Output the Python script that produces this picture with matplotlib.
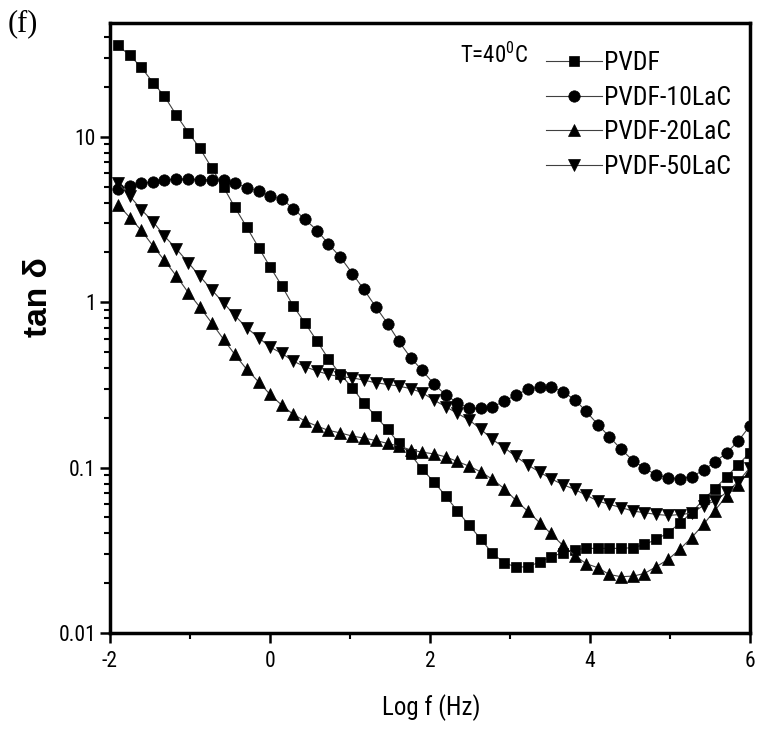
import matplotlib
matplotlib.use("Agg")
import matplotlib.pyplot as plt
from matplotlib import font_manager
from matplotlib.ticker import FixedLocator, FixedFormatter, LogLocator, NullFormatter

# Frequency grid (log10 of f in Hz)
log_f = [-1.90, -1.75, -1.61, -1.46, -1.32, -1.17, -1.02, -0.88, -0.73, -0.58,
         -0.44, -0.29, -0.14, 0.00, 0.15, 0.29, 0.44, 0.59, 0.73, 0.88,
         1.03, 1.17, 1.32, 1.47, 1.61, 1.76, 1.90, 2.05, 2.20, 2.34,
         2.49, 2.64, 2.78, 2.93, 3.07, 3.22, 3.37, 3.51, 3.66, 3.81,
         3.95, 4.10, 4.24, 4.39, 4.54, 4.68, 4.83, 4.98, 5.12, 5.27,
         5.42, 5.56, 5.71, 5.85, 6.00]

tan_pvdf = [35.6, 31.0, 26.3, 21.2, 17.6, 13.5, 10.6, 8.57, 6.5, 4.95,
            3.75, 2.84, 2.13, 1.64, 1.25, 0.95, 0.745, 0.58, 0.455, 0.366,
            0.304, 0.247, 0.205, 0.170, 0.141, 0.120, 0.098, 0.082, 0.067, 0.055,
            0.0448, 0.0368, 0.0303, 0.0266, 0.0251, 0.0251, 0.0269, 0.0288, 0.0306, 0.0318,
            0.0325, 0.0325, 0.0325, 0.0325, 0.0328, 0.0343, 0.0368, 0.0405, 0.046, 0.0534,
            0.0643, 0.0746, 0.088, 0.104, 0.123]

tan_10lac = [4.85, 5.03, 5.23, 5.36, 5.51, 5.53, 5.56, 5.50, 5.48, 5.50,
             5.26, 4.91, 4.69, 4.37, 4.19, 3.68, 3.16, 2.71, 2.25, 1.87,
             1.49, 1.20, 0.94, 0.743, 0.581, 0.461, 0.388, 0.320, 0.274, 0.247,
             0.228, 0.228, 0.233, 0.252, 0.274, 0.297, 0.308, 0.308, 0.287, 0.258,
             0.219, 0.182, 0.154, 0.129, 0.110, 0.0998, 0.090, 0.087, 0.0857, 0.088,
             0.0966, 0.108, 0.123, 0.144, 0.179]

tan_20lac = [3.89, 3.24, 2.72, 2.18, 1.79, 1.44, 1.14, 0.938, 0.751, 0.596,
             0.483, 0.392, 0.329, 0.277, 0.238, 0.210, 0.191, 0.178, 0.168, 0.162,
             0.155, 0.151, 0.146, 0.140, 0.135, 0.128, 0.124, 0.121, 0.116, 0.109,
             0.102, 0.094, 0.085, 0.0745, 0.0636, 0.0546, 0.0465, 0.040, 0.0339, 0.0294,
             0.0263, 0.0248, 0.0226, 0.0219, 0.0221, 0.0229, 0.0252, 0.0279, 0.032, 0.0377,
             0.0454, 0.0550, 0.0675, 0.079, 0.095]

tan_50lac = [5.27, 4.37, 3.63, 3.06, 2.51, 2.10, 1.73, 1.44, 1.19, 0.99,
             0.831, 0.700, 0.609, 0.536, 0.490, 0.440, 0.407, 0.383, 0.366, 0.354,
             0.349, 0.338, 0.326, 0.318, 0.311, 0.300, 0.284, 0.256, 0.233, 0.213,
             0.194, 0.170, 0.148, 0.132, 0.117, 0.104, 0.094, 0.0857, 0.079, 0.0738,
             0.0682, 0.0628, 0.060, 0.0573, 0.0546, 0.0534, 0.0521, 0.0514, 0.052, 0.053,
             0.059, 0.0628, 0.071, 0.082, 0.100]

series_labels = ["PVDF", "PVDF-10LaC", "PVDF-20LaC", "PVDF-50LaC"]
x_ticks = [-2, 0, 2, 4, 6]
x_tick_labels = ["-2", "0", "2", "4", "6"]
y_ticks = [0.01, 0.1, 1, 10]
y_tick_labels = ["0.01", "0.1", "1", "10"]


def pick_narrow_font():
    """Look for a narrow/condensed sans face; fall back to Liberation Sans."""
    entries = font_manager.fontManager.ttflist
    names = {f.name for f in entries}
    for nm in ("Liberation Sans Narrow", "Arial Narrow", "Roboto Condensed",
               "Open Sans Condensed", "Noto Sans Condensed", "DejaVu Sans Condensed"):
        if nm in names:
            return nm, "normal", True
    for fam in ("Roboto", "Noto Sans", "Open Sans", "DejaVu Sans"):
        for f in entries:
            if f.name == fam and f.stretch in ("condensed", "semi-condensed", "extra-condensed"):
                return fam, f.stretch, True
    return "Liberation Sans", "normal", False


narrow, stretch, is_narrow = pick_narrow_font()
if is_narrow:
    fs_tick, fs_leg, fs_xlab, fs_temp = 15.5, 18.5, 18, 16.5
else:
    fs_tick, fs_leg, fs_xlab, fs_temp = 15, 16, 17, 15

plt.rcParams["font.family"] = [narrow, "DejaVu Sans"]
plt.rcParams["font.stretch"] = stretch
plt.rcParams["axes.unicode_minus"] = False
plt.rcParams["mathtext.fontset"] = "custom"
plt.rcParams["mathtext.rm"] = narrow
plt.rcParams["mathtext.it"] = narrow

fig = plt.figure(figsize=(7.6, 7.32), dpi=100)
ax = fig.add_axes([0.1447, 0.1352, 0.8421, 0.8338])

styles = [("s", 7.5), ("o", 8.2), ("^", 8.6), ("v", 8.6)]
data = [tan_pvdf, tan_10lac, tan_20lac, tan_50lac]
for vals, (mk, ms), lab in zip(data, styles, series_labels):
    ax.plot(log_f, vals, color="#404040", lw=0.8, marker=mk, ms=ms,
            mfc="black", mec="black", mew=0.5, label=lab)

ax.set_yscale("log")
ax.set_xlim(-2, 6)
ax.set_ylim(0.01, 48.9)

ax.xaxis.set_major_locator(FixedLocator(x_ticks))
ax.xaxis.set_major_formatter(FixedFormatter(x_tick_labels))
ax.xaxis.set_minor_locator(FixedLocator([-1, 1, 3, 5]))
ax.yaxis.set_major_locator(FixedLocator(y_ticks))
ax.yaxis.set_major_formatter(FixedFormatter(y_tick_labels))
ax.yaxis.set_minor_locator(LogLocator(base=10, subs=range(2, 10)))
ax.yaxis.set_minor_formatter(NullFormatter())

for sp in ax.spines.values():
    sp.set_linewidth(2.5)
ax.tick_params(which="major", direction="out", length=7, width=1.8,
               labelsize=fs_tick, top=False, right=False)
ax.tick_params(which="minor", direction="out", length=4, width=1.5,
               top=False, right=False)
ax.tick_params(axis="x", which="major", pad=6)
ax.tick_params(axis="y", which="major", pad=3)

ax.set_xlabel("Log f (Hz)", fontsize=fs_xlab)
ax.xaxis.set_label_coords(0.502, -0.100)
ax.set_ylabel("tan δ", fontsize=24, fontweight="bold",
              family=["Liberation Sans", "DejaVu Sans"], fontstretch="normal")
ax.yaxis.set_label_coords(-0.088, 0.55)

leg = ax.legend(loc="upper left", bbox_to_anchor=(0.681, 0.954), frameon=False,
                fontsize=fs_leg, handlelength=2.2, handletextpad=0.05,
                labelspacing=0.42, borderpad=0, borderaxespad=0)

ax.text(0.654, 0.946, "T=40$^{0}$C", transform=ax.transAxes, fontsize=fs_temp,
        ha="right", va="center")

fig.text(0.010, 0.988, "(f)", fontsize=22, family=["Liberation Serif", "DejaVu Serif"],
         fontstretch="normal", ha="left", va="top")

fig.savefig("out.png", dpi=100)
